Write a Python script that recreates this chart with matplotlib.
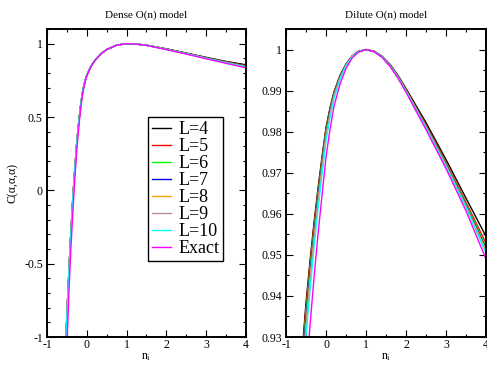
import matplotlib
matplotlib.use('Agg')
import matplotlib.pyplot as plt
from matplotlib.ticker import MultipleLocator, FormatStrFormatter

plt.rcParams['font.family'] = ['Liberation Serif', 'DejaVu Serif']
plt.rcParams['mathtext.fontset'] = 'custom'
plt.rcParams['mathtext.rm'] = 'Liberation Serif'
plt.rcParams['mathtext.it'] = 'Liberation Serif'
plt.rcParams['axes.unicode_minus'] = False

labels = ['L=4', 'L=5', 'L=6', 'L=7', 'L=8', 'L=9', 'L=10', 'Exact']
colors = ['#000000', '#ff0000', '#00ff00', '#0000ff', '#ffa500', '#bc8f8f', '#00ffff', '#ff00ff']

# Dense O(n) model
denseN = [-0.6, -0.55, -0.52, -0.48, -0.44, -0.40, -0.35, -0.30, -0.25, -0.20, -0.15, -0.10, -0.05,
          0.0, 0.1, 0.2, 0.35, 0.5, 0.75, 1.0, 1.25, 1.5, 2.0, 2.5, 3.0, 3.5, 4.0]
denseL4 = [-1.5, -1.17, -0.98, -0.73, -0.50, -0.29, -0.05, 0.15, 0.33, 0.47, 0.59, 0.68, 0.74,
           0.785, 0.845, 0.885, 0.93, 0.96, 0.99, 1.0, 0.997, 0.990, 0.965, 0.936, 0.907, 0.879, 0.856]
denseL5 = [-1.5, -1.17, -0.98, -0.73, -0.50, -0.29, -0.05, 0.15, 0.33, 0.47, 0.59, 0.68, 0.74,
           0.785, 0.845, 0.885, 0.93, 0.96, 0.99, 1.0, 0.997, 0.9895, 0.9638, 0.9343, 0.9045, 0.8758, 0.8508]
denseL6 = [-1.5, -1.17, -0.98, -0.73, -0.50, -0.29, -0.05, 0.15, 0.33, 0.47, 0.59, 0.68, 0.74,
           0.785, 0.845, 0.885, 0.93, 0.96, 0.99, 1.0, 0.997, 0.9892, 0.963, 0.9332, 0.903, 0.8738, 0.8476]
denseL7 = [-1.5, -1.17, -0.98, -0.73, -0.50, -0.29, -0.05, 0.15, 0.33, 0.47, 0.59, 0.68, 0.74,
           0.785, 0.845, 0.885, 0.93, 0.96, 0.99, 1.0, 0.997, 0.989, 0.9625, 0.9325, 0.902, 0.8725, 0.8455]
denseL8 = [-1.5, -1.17, -0.98, -0.73, -0.50, -0.29, -0.05, 0.15, 0.33, 0.47, 0.59, 0.68, 0.74,
           0.785, 0.845, 0.885, 0.93, 0.96, 0.99, 1.0, 0.997, 0.9888, 0.962, 0.9318, 0.901, 0.8712, 0.8434]
denseL9 = [-1.5, -1.17, -0.98, -0.73, -0.50, -0.29, -0.05, 0.15, 0.33, 0.47, 0.59, 0.68, 0.74,
           0.785, 0.845, 0.885, 0.93, 0.96, 0.99, 1.0, 0.997, 0.9887, 0.9617, 0.9313, 0.9003, 0.8703, 0.8419]
denseL10 = [-1.52, -1.18, -0.99, -0.74, -0.51, -0.30, -0.06, 0.145, 0.325, 0.467, 0.588, 0.679, 0.74,
            0.785, 0.845, 0.885, 0.93, 0.96, 0.99, 1.0, 0.997, 0.9886, 0.9614, 0.931, 0.8998, 0.8696, 0.8409]
denseExact = [-1.7, -1.37, -1.17, -0.92, -0.64, -0.395, -0.15, 0.08, 0.28, 0.435, 0.565, 0.665, 0.733,
              0.78, 0.842, 0.883, 0.929, 0.96, 0.99, 1.0, 0.997, 0.988, 0.960, 0.929, 0.897, 0.866, 0.835]

# Dilute O(n) model
diluteN = [-0.62, -0.5, -0.4, -0.3, -0.2, -0.1, 0.0, 0.1, 0.2, 0.35, 0.5, 0.65, 0.8,
           1.0, 1.2, 1.4, 1.6, 1.8, 2.0, 2.5, 3.0, 3.5, 4.0]
diluteL4 = [0.9235, 0.9383, 0.9485, 0.9578, 0.9662, 0.9738, 0.9810, 0.9858, 0.9897, 0.9937, 0.9965, 0.9984, 0.9995,
            1.0, 0.9996, 0.9984, 0.9964, 0.9937, 0.9905, 0.9822, 0.9732, 0.9638, 0.9545]
diluteL5 = [0.9223, 0.9372, 0.9476, 0.9570, 0.9655, 0.9732, 0.9806, 0.9855, 0.9895, 0.9936, 0.9964, 0.9984, 0.9995,
            1.0, 0.9996, 0.9983, 0.9962, 0.9935, 0.9902, 0.9817, 0.9725, 0.9628, 0.9528]
diluteL6 = [0.9208, 0.9359, 0.9465, 0.9561, 0.9647, 0.9726, 0.9801, 0.9851, 0.9892, 0.9934, 0.9964, 0.9983, 0.9995,
            1.0, 0.9996, 0.9983, 0.9962, 0.9934, 0.9901, 0.9814, 0.9722, 0.9624, 0.9520]
diluteL7 = [0.9194, 0.9346, 0.9454, 0.9551, 0.9640, 0.9719, 0.9796, 0.9848, 0.9890, 0.9933, 0.9963, 0.9983, 0.9995,
            1.0, 0.9995, 0.9982, 0.9961, 0.9933, 0.9900, 0.9813, 0.9720, 0.9621, 0.9515]
diluteL8 = [0.9180, 0.9334, 0.9443, 0.9542, 0.9632, 0.9713, 0.9791, 0.9844, 0.9888, 0.9931, 0.9962, 0.9983, 0.9994,
            1.0, 0.9995, 0.9982, 0.9961, 0.9933, 0.9900, 0.9812, 0.9719, 0.9619, 0.9512]
diluteL9 = [0.9165, 0.9321, 0.9432, 0.9532, 0.9624, 0.9706, 0.9786, 0.9840, 0.9885, 0.9930, 0.9961, 0.9982, 0.9994,
            1.0, 0.9995, 0.9982, 0.9961, 0.9932, 0.9899, 0.9811, 0.9717, 0.9617, 0.9508]
diluteL10 = [0.9143, 0.9301, 0.9414, 0.9518, 0.9612, 0.9696, 0.9778, 0.9835, 0.9881, 0.9928, 0.9960, 0.9982, 0.9994,
             1.0, 0.9995, 0.9982, 0.9960, 0.9932, 0.9898, 0.9809, 0.9715, 0.9615, 0.9504]
diluteExact = [0.903, 0.920, 0.9328, 0.9444, 0.955, 0.9645, 0.9738, 0.9806, 0.9862, 0.9916, 0.9954, 0.9979, 0.9993,
               1.0, 0.9995, 0.9981, 0.9959, 0.9930, 0.9896, 0.9805, 0.9710, 0.9607, 0.9490]

denseSeries = [denseL4, denseL5, denseL6, denseL7, denseL8, denseL9, denseL10, denseExact]
diluteSeries = [diluteL4, diluteL5, diluteL6, diluteL7, diluteL8, diluteL9, diluteL10, diluteExact]


def StyleAxes(ax, yMajor, yMinor, yLim):
    ax.set_xlim(-1, 4)
    ax.set_ylim(*yLim)
    ax.xaxis.set_major_locator(MultipleLocator(1))
    ax.xaxis.set_minor_locator(MultipleLocator(0.5))
    ax.yaxis.set_major_locator(MultipleLocator(yMajor))
    ax.yaxis.set_minor_locator(MultipleLocator(yMinor))
    ax.xaxis.set_major_formatter(FormatStrFormatter('%g'))
    ax.yaxis.set_major_formatter(FormatStrFormatter('%g'))
    ax.tick_params(which='both', direction='in', top=True, right=True, width=0.8, labelsize=8.5, pad=3)
    ax.tick_params(axis='x', pad=1.5)
    ax.tick_params(which='major', length=5)
    ax.tick_params(which='minor', length=2.5)
    for spine in ax.spines.values():
        spine.set_linewidth(1.4)
    ax.set_xlabel(r'n$_{i}$', fontsize=8.5, labelpad=0)


fig = plt.figure(figsize=(4.87, 3.65), dpi=100)
axDense = fig.add_axes([0.0965, 0.0767, 0.4086, 0.8438])
axDilute = fig.add_axes([0.5873, 0.0767, 0.4107, 0.8438])

for values, label, color in zip(denseSeries, labels, colors):
    axDense.plot(denseN, values, color=color, lw=1.0, label=label)
for values, color in zip(diluteSeries, colors):
    axDilute.plot(diluteN, values, color=color, lw=1.0)

StyleAxes(axDense, 0.5, 0.1, (-1, 1.1))
StyleAxes(axDilute, 0.01, 0.005, (0.93, 1.005))
axDense.set_title('Dense O(n) model', fontsize=8, pad=8)
axDilute.set_title('Dilute O(n) model', fontsize=8, pad=8)
axDense.set_ylabel('C(\u03b1,\u03b1,\u03b1)', fontsize=8.5, labelpad=4)

legend = axDense.legend(loc='upper left', bbox_to_anchor=(0.509, 0.713), borderaxespad=0,
                        fontsize=13, handlelength=1.05, handletextpad=0.38, labelspacing=0.0,
                        borderpad=0.22, fancybox=False, edgecolor='black', framealpha=1)
legend.get_frame().set_linewidth(1.0)

fig.savefig('out.png', dpi=100)
